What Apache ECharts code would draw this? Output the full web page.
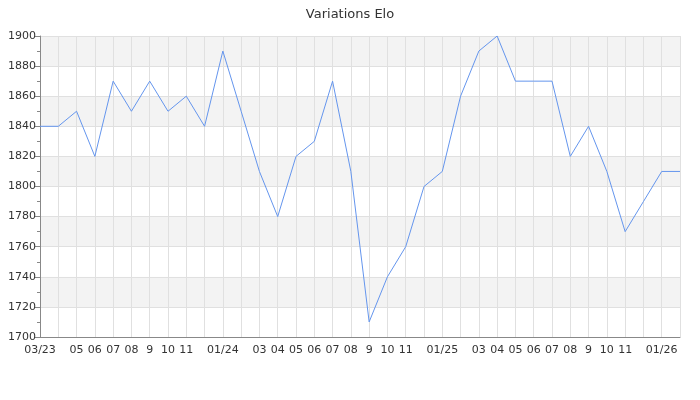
<!DOCTYPE html>
<html><head><meta charset="utf-8">
<script src="https://cdn.jsdelivr.net/npm/echarts@6/dist/echarts.min.js"></script>
<style>html,body{margin:0;padding:0;background:#fff}#c{width:700px;height:400px}</style>
</head><body><div id="c"></div>
<script>
const months = ['2023-03','2023-04','2023-05','2023-06','2023-07','2023-08','2023-09','2023-10','2023-11','2023-12',
  '2024-01','2024-02','2024-03','2024-04','2024-05','2024-06','2024-07','2024-08','2024-09','2024-10','2024-11','2024-12',
  '2025-01','2025-02','2025-03','2025-04','2025-05','2025-06','2025-07','2025-08','2025-09','2025-10','2025-11','2025-12',
  '2026-01','2026-02'];
const tickLabels = ['03/23','','05','06','07','08','9','10','11','',
  '01/24','','03','04','05','06','07','08','9','10','11','',
  '01/25','','03','04','05','06','07','08','9','10','11','',
  '01/26',''];
const elo = [1840,1840,1850,1820,1870,1850,1870,1850,1860,1840,
  1890,1850,1810,1780,1820,1830,1870,1810,1710,1740,1760,1800,
  1810,1860,1890,1900,1870,1870,1870,1820,1840,1810,1770,1790,
  1810,1810];
const chart = echarts.init(document.getElementById('c'));
const font = 'DejaVu Sans';
chart.setOption({
  animation: false,
  title: {text: 'Variations Elo', left: 'center', top: 3,
    textStyle: {fontFamily: font, fontSize: 13, fontWeight: 'normal', color: '#333'}},
  grid: {left: 40, right: 20, top: 36, bottom: 63, containLabel: false},
  xAxis: {type: 'category', data: months, boundaryGap: false,
    axisLine: {lineStyle: {color: '#888'}},
    axisTick: {show: false},
    axisLabel: {interval: 0, fontFamily: font, fontSize: 11, color: '#333', margin: 8,
      formatter: (v, i) => tickLabels[i]},
    splitLine: {show: true, interval: 0, lineStyle: {color: '#e0e0e0'}}},
  yAxis: {type: 'value', min: 1700, max: 1900, interval: 20,
    axisLine: {show: true, lineStyle: {color: '#888'}},
    axisTick: {show: true, length: 5, lineStyle: {color: '#888'}},
    minorTick: {show: true, splitNumber: 2, length: 3, lineStyle: {color: '#888'}},
    axisLabel: {fontFamily: font, fontSize: 11, color: '#333', margin: 4,
      formatter: v => String(v)},
    splitLine: {lineStyle: {color: '#e0e0e0'}},
    splitArea: {show: true, areaStyle: {color: ['#ffffff', '#f3f3f3']}}},
  series: [{type: 'line', data: elo, showSymbol: false, symbol: 'none',
    lineStyle: {color: '#6495ed', width: 1}}]
});
</script></body></html>
